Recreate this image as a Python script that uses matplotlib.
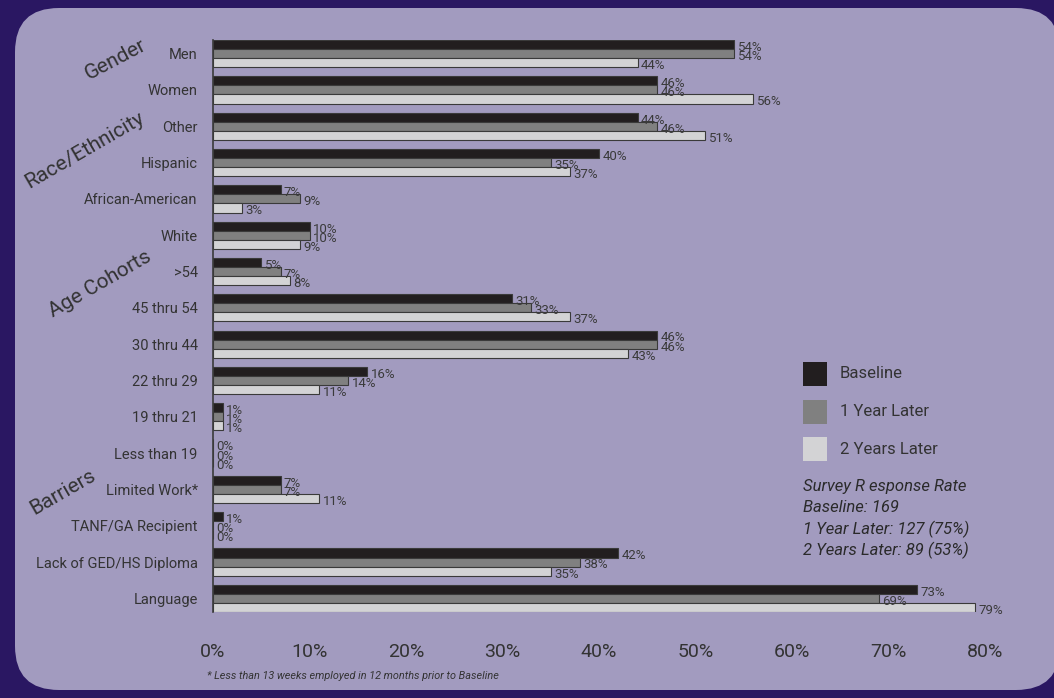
import matplotlib
matplotlib.use("Agg")
import numpy as np
import matplotlib.pyplot as plt
from matplotlib.patches import FancyBboxPatch, Rectangle

# survey results, share of respondents (%)
categories = ["Men", "Women", "Other", "Hispanic", "African-American", "White",
              ">54", "45 thru 54", "30 thru 44", "22 thru 29", "19 thru 21",
              "Less than 19", "Limited Work*", "TANF/GA Recipient",
              "Lack of GED/HS Diploma", "Language"]
baseline = [54, 46, 44, 40, 7, 10, 5, 31, 46, 16, 1, 0, 7, 1, 42, 73]
one_year = [54, 46, 46, 35, 9, 10, 7, 33, 46, 14, 1, 0, 7, 0, 38, 69]
two_years = [44, 56, 51, 37, 3, 9, 8, 37, 43, 11, 1, 0, 11, 0, 35, 79]
series_names = ["Baseline", "1 Year Later", "2 Years Later"]
x_ticks = [0, 10, 20, 30, 40, 50, 60, 70, 80]

# rotated section headings (text, x px, y px, angle)
sections = [("Gender", 116, 60, 28), ("Race/Ethnicity", 85, 150, 30),
            ("Age Cohorts", 100, 284, 30), ("Barriers", 63, 492, 30)]

response_lines = ["Survey R esponse Rate", "Baseline: 169",
                  "1 Year Later: 127 (75%)", "2 Years Later: 89 (53%)"]
footnote = "* Less than 13 weeks employed in 12 months prior to Baseline"

FONT = ["Roboto", "DejaVu Sans"]
plt.rcParams["font.family"] = FONT
colors = ["#221e1f", "#808080", "#d3d3d5"]
panel = "#a29bbf"
border = "#2a1762"
text_c = "#333333"

W, H = 1054, 698
fig = plt.figure(figsize=(W / 100, H / 100), dpi=100, facecolor=border)

# background canvas in pixel units
bg = fig.add_axes([0, 0, 1, 1])
bg.set_xlim(0, W)
bg.set_ylim(H, 0)
bg.axis("off")
bg.add_patch(FancyBboxPatch((15, 8), 1045, 682,
                            boxstyle="round,pad=0,rounding_size=44",
                            facecolor=panel, edgecolor="none"))

ax = fig.add_axes([213 / W, 1 - 612 / H, (985 - 213) / W, (612 - 40) / H])
ax.set_facecolor("none")

y = np.arange(len(categories))
h = 0.25
for k, (vals, c) in enumerate(zip([baseline, one_year, two_years], colors)):
    yy = y + (k - 1) * h
    ax.barh(yy, vals, height=h, color=c, edgecolor="#3a3a3a", linewidth=0.8,
            zorder=3)
    for v, yv in zip(vals, yy):
        ax.text(v + 0.35, yv + 0.08, f"{v}%", fontsize=9.5, color="#3a3a3a",
                ha="left", va="center", zorder=4)

ax.set_xlim(0, 80)
ax.set_ylim(len(categories) - 1 + 1.5 * h, -1.5 * h)
ax.set_yticks(y)
ax.set_yticklabels(categories, fontsize=10.5, color=text_c)
ax.set_xticks(x_ticks)
ax.set_xticklabels([f"{t}%" for t in x_ticks], fontsize=14, color=text_c)
ax.tick_params(axis="y", length=0, pad=11)
ax.tick_params(axis="x", length=0, pad=22)
for side in ["top", "right", "bottom"]:
    ax.spines[side].set_visible(False)
ax.spines["left"].set_color("#3a3a3a")
ax.spines["left"].set_linewidth(1.2)

for txt, sx, sy, ang in sections:
    bg.text(sx, sy, txt, rotation=ang, fontsize=15, color=text_c,
            ha="center", va="center", rotation_mode="anchor")

# legend
for i, (name, c) in enumerate(zip(series_names, colors)):
    top = 362 + i * 37.5
    bg.add_patch(Rectangle((803, top), 24, 24, facecolor=c, edgecolor="none"))
    bg.text(840, top + 12, name, fontsize=12, color=text_c,
            ha="left", va="center")

for i, line in enumerate(response_lines):
    bg.text(803, 486 + i * 21.5, line, fontsize=12, style="italic",
            color="#2a2a2a", ha="left", va="center")

bg.text(207, 676, footnote, fontsize=7.8, style="italic",
        color=text_c, ha="left", va="center")

fig.savefig("out.png", dpi=100, facecolor=border)
